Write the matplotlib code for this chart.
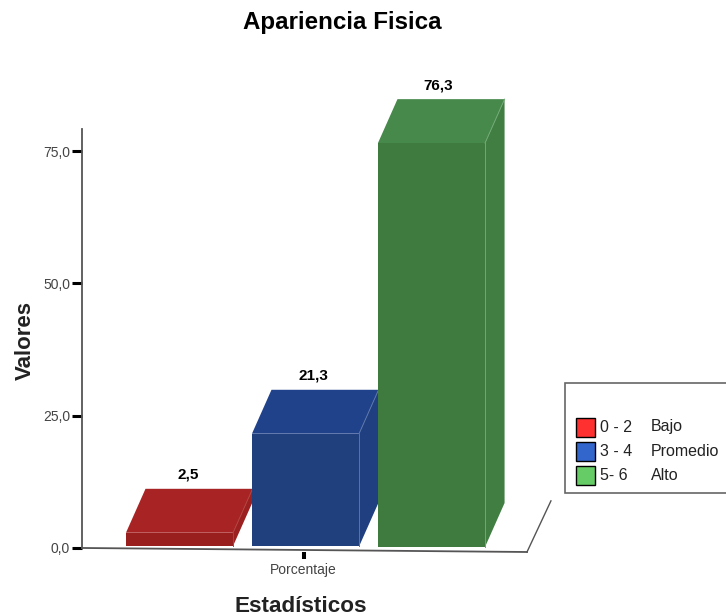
import matplotlib
matplotlib.use("Agg")
import matplotlib.pyplot as plt
from matplotlib.patches import Polygon, Rectangle

plt.rcParams["font.family"] = ["Liberation Sans", "DejaVu Sans"]

W, H = 726, 616

# values
categories = ["0 - 2", "3 - 4", "5- 6"]
levels = ["Bajo", "Promedio", "Alto"]
values = [2.5, 21.3, 76.3]
value_labels = ["2,5", "21,3", "76,3"]
x_label = "Porcentaje"
y_ticks = [0, 25, 50, 75]
y_tick_labels = ["0,0", "25,0", "50,0", "75,0"]

front_colors = ["#991f1f", "#1f3f7d", "#3f7a3f"]
top_colors = ["#a82424", "#20428b", "#46894a"]
side_colors = ["#9c2020", "#1f3f80", "#407e42"]
edge_colors = ["#b0403c", "#5a74a8", "#70a874"]
legend_colors = ["#ff3030", "#3366cc", "#66cc66"]

fig = plt.figure(figsize=(W / 100, H / 100), dpi=100, facecolor="white")
ax = fig.add_axes([82 / W, 1 - 552 / H, (527 - 82) / W, (552 - 129) / H])
ax.set_xlim(-0.774, 2.758)
ax.set_ylim(-0.76, 79.16)
ax.patch.set_alpha(0)


def fig_xy(x, y):
    return x / W, 1 - y / H


# 3d look of the bars: fixed depth offset and half bar width
bar_w = 0.425
depth_x = 0.155
depth_y = 8.3

for i, v in enumerate(values):
    x0, x1 = i - bar_w, i + bar_w
    # bar feet follow the tilted floor
    b = 0.38 - 0.09 * i
    top = b + v
    front = [(x0, b), (x1, b), (x1, top), (x0, top)]
    roof = [(x0, top), (x1, top), (x1 + depth_x, top + depth_y), (x0 + depth_x, top + depth_y)]
    side = [(x1, b), (x1 + depth_x, b + depth_y), (x1 + depth_x, top + depth_y), (x1, top)]
    ax.add_patch(Polygon(side, fc=side_colors[i], ec="none", clip_on=False, zorder=3 + i))
    ax.add_patch(Polygon(roof, fc=top_colors[i], ec="none", clip_on=False, zorder=3 + i))
    ax.add_patch(Polygon(front, fc=front_colors[i], ec="none", clip_on=False, zorder=3 + i))
    ax.plot([x1, x1], [b, top], color=edge_colors[i], lw=0.7, clip_on=False, zorder=3.5 + i)
    ax.plot([x1, x1 + depth_x], [top, top + depth_y], color=edge_colors[i], lw=0.7, clip_on=False, zorder=3.5 + i)
    ax.text(i + depth_x / 2 - 0.005 - 0.008 * i, top + depth_y + 1.3, value_labels[i], ha="center", va="bottom",
            fontsize=11, fontweight="bold", color="black", clip_on=False, zorder=8)

# floor line runs slightly downhill, then back along the wall
for sp in ["top", "right", "bottom"]:
    ax.spines[sp].set_visible(False)
ax.spines["left"].set_bounds(0, 79.16)
ax.spines["left"].set_color("#555555")
ax.spines["left"].set_linewidth(1.3)
ax.plot([-0.774, 2.758], [0, -0.76], color="#555555", lw=1.3, clip_on=False, zorder=2)
ax.plot([2.758, 2.948], [-0.76, 8.9], color="#555555", lw=1.0, clip_on=False, zorder=2)

ax.set_yticks(y_ticks)
ax.set_yticklabels(y_tick_labels, fontsize=10, color="#444444")
ax.set_xticks([0.985])
ax.set_xticklabels([x_label], fontsize=10, color="#444444")
ax.tick_params(axis="y", length=7.2, width=2.2, color="black", pad=1.4)
ax.tick_params(axis="x", length=5, width=2.9, color="black", pad=3)

fig.text(*fig_xy(342, 22), "Apariencia Fisica", ha="center", va="center", fontsize=17.4, fontweight="bold", color="black")
fig.text(*fig_xy(301, 606), "Estadísticos", ha="center", va="center", fontsize=16.2, fontweight="bold", color="#222222")
fig.text(*fig_xy(25, 341), "Valores", ha="center", va="center", rotation=90, fontsize=16, fontweight="bold", color="#222222")

# legend box
fig.add_artist(Rectangle(fig_xy(565, 493), 165 / W, 110 / H, fc="white", ec="#666666", lw=1.2, transform=fig.transFigure))
for i, y in enumerate([427, 451, 475]):
    fig.add_artist(Rectangle(fig_xy(576, y + 10), 19 / W, 19 / H, fc=legend_colors[i], ec="black", lw=1.0, transform=fig.transFigure))
    fig.text(*fig_xy(600, y), categories[i], ha="left", va="center", fontsize=11.5, color="#222222")
    fig.text(*fig_xy(651, y), levels[i], ha="left", va="center", fontsize=11.5, color="#222222")

fig.savefig("out.png", dpi=100)
